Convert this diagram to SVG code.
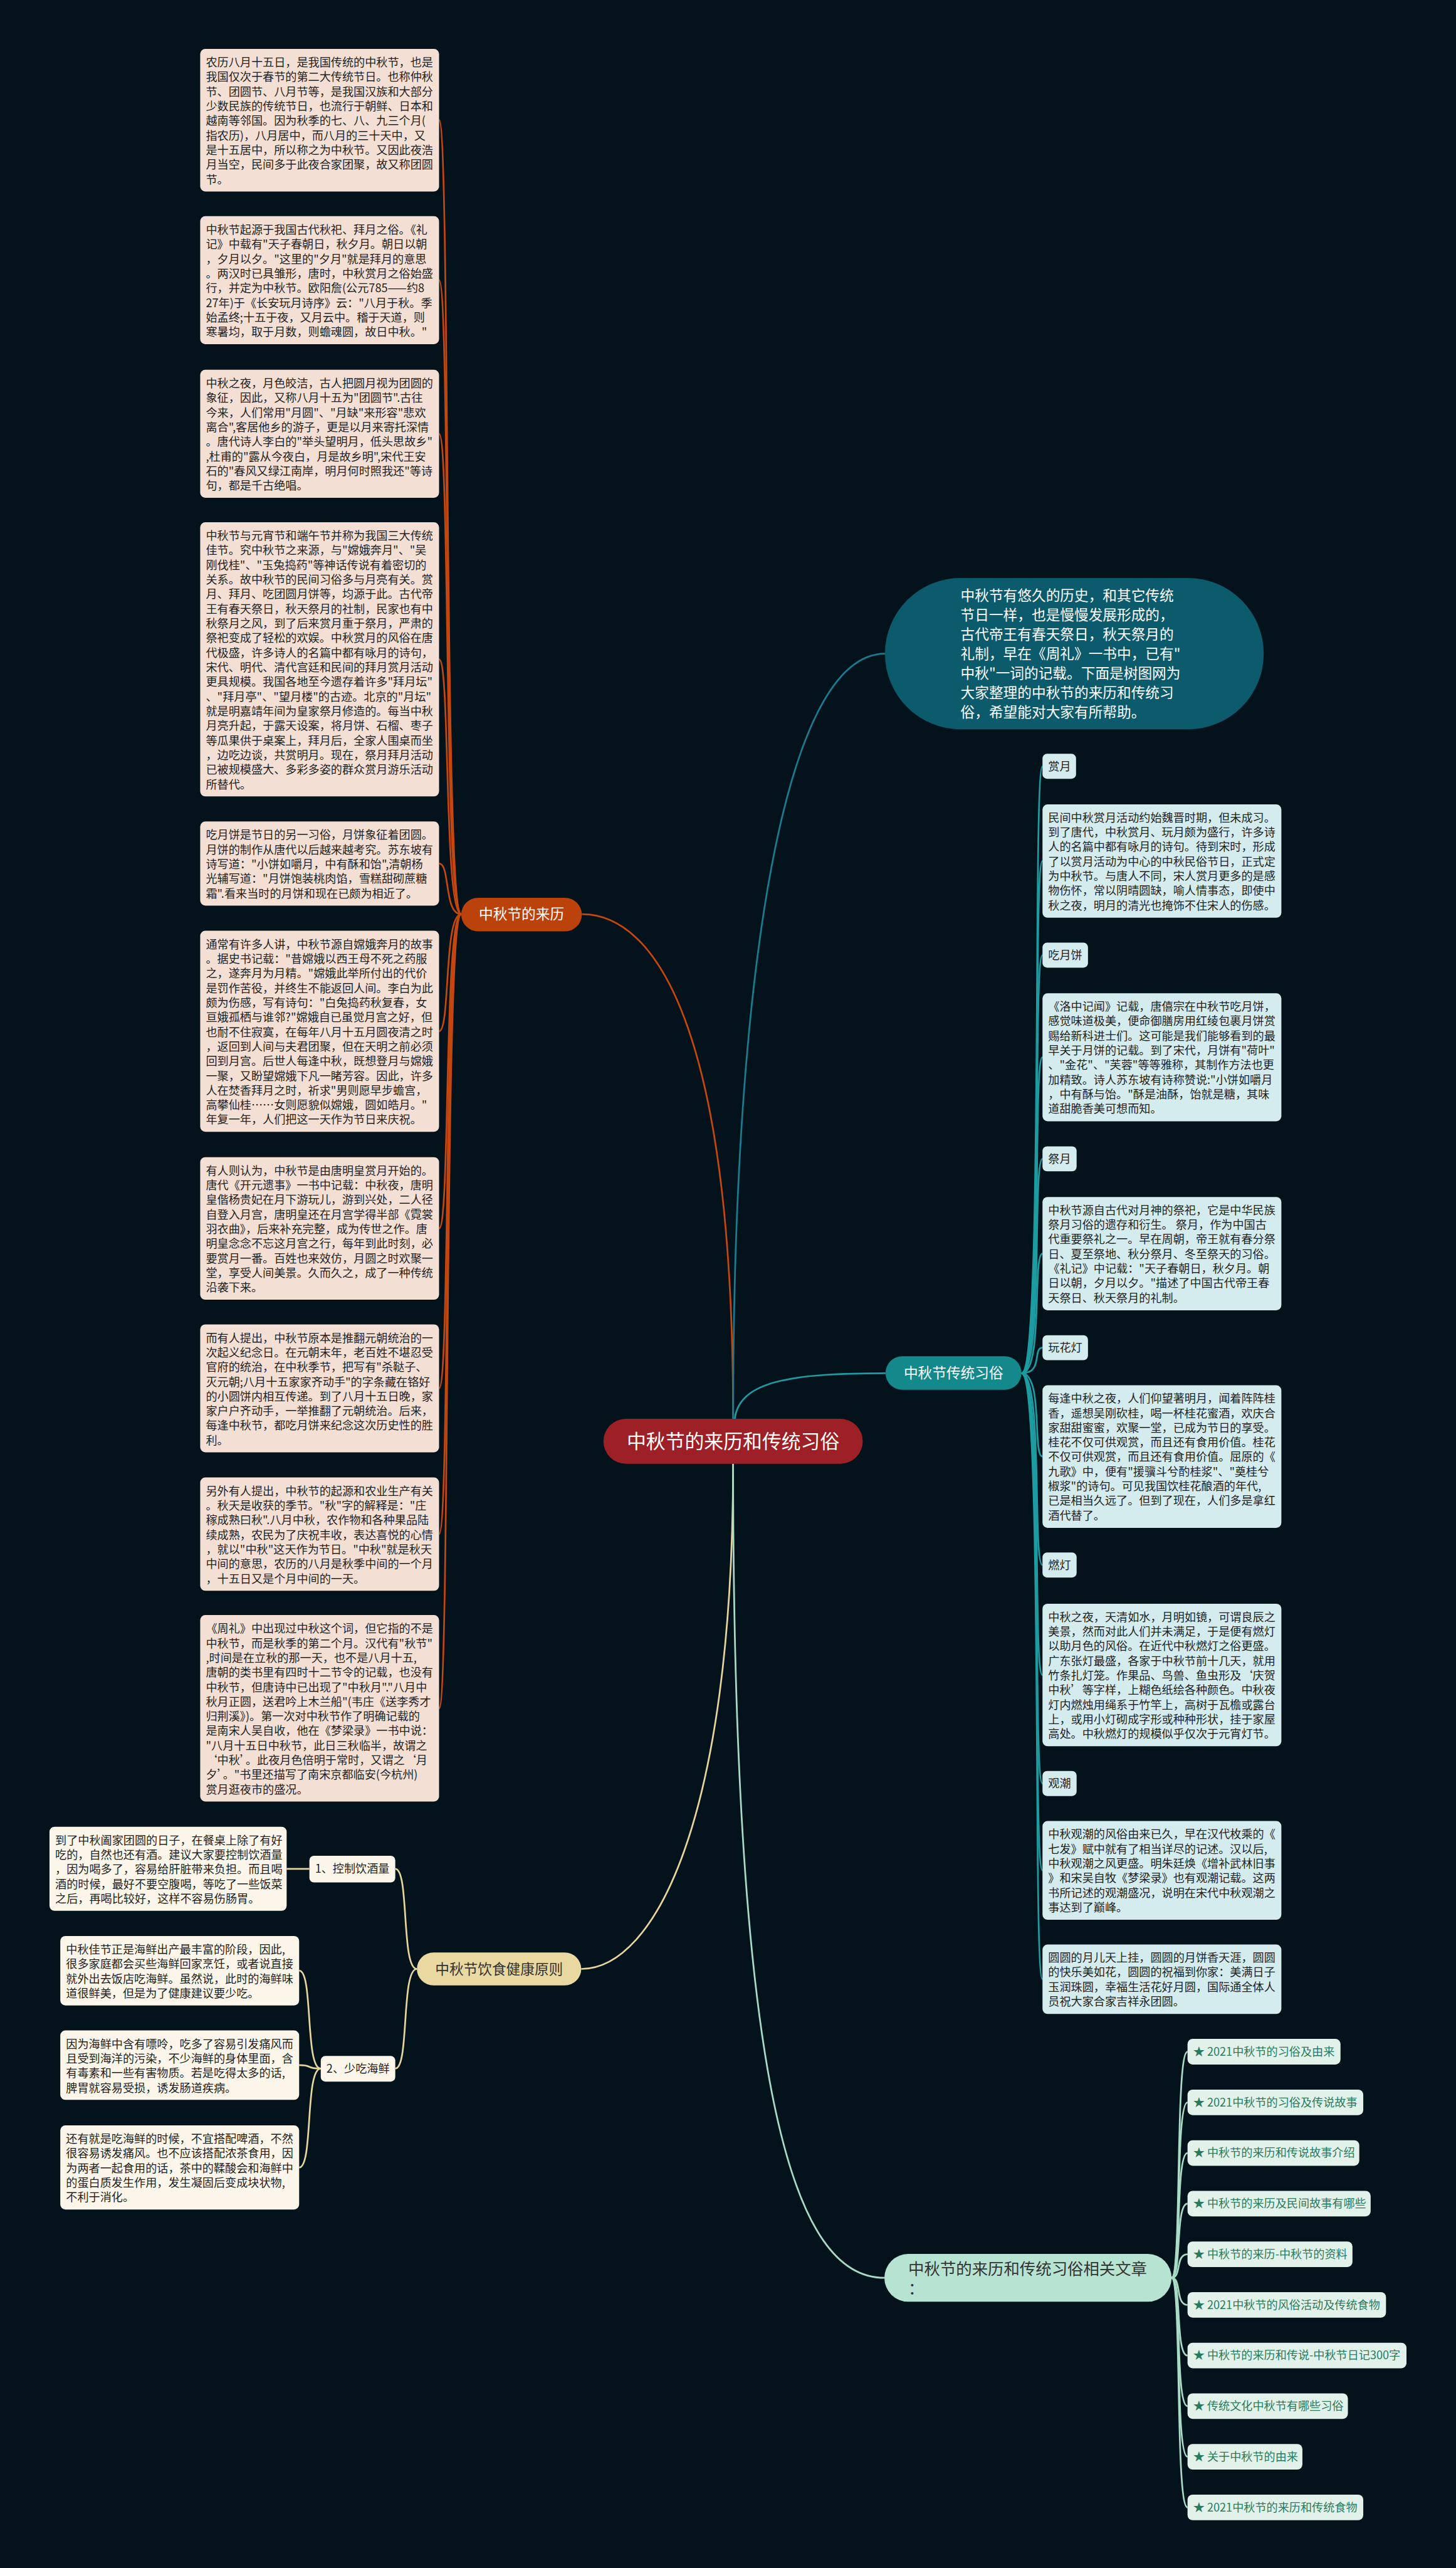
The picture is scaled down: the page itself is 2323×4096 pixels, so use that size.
<svg xmlns="http://www.w3.org/2000/svg" width="2323" height="4096" viewBox="0 0 2323 4096">
<style>
.t{font-family:"Noto Sans CJK SC","Noto Sans",sans-serif;font-size:20px;fill:#1f1f1f}
.tw{font-family:"Noto Sans CJK SC","Noto Sans",sans-serif;fill:#ffffff}
.ti{font-family:"Noto Sans CJK SC","Noto Sans",sans-serif;font-size:20px;fill:#2b7a5c}
.bl{fill:#f3dfd4}
.br{fill:#d4ecee}
.bc{fill:#fbf6e9}
.bi{fill:#e2f2ea}
.c{fill:none;stroke-width:3}
.co{stroke:#c4470f}
.ct{stroke:#1d9ca1}
.cg{stroke:#e6d59c}
.cm{stroke:#a9dcc7}
</style>
<rect x="0" y="0" width="2323" height="4096" fill="#04121b"/>
<g transform="scale(0.9074)">
<g id="connectors">
<path class="c co" d="M1289,2494 C1289,1800 1150,1607 1023,1607"/>
<path class="c" stroke="#1a7c8f" d="M1289,2494 C1289,1700 1380,1149 1556,1149"/>
<path class="c ct" d="M1292,2494 C1300,2425 1400,2414 1557,2414"/>
<path class="c cg" d="M1289,2573 C1289,3200 1150,3461 1022,3461"/>
<path class="c cm" d="M1289,2573 C1289,3700 1400,4004 1555,4004"/>
<path class="c co" d="M811,1607 C780,1607 792,211.3 772,211.3"/>
<path class="c co" d="M811,1607 C780,1607 792,492.4 772,492.4"/>
<path class="c co" d="M811,1607 C780,1607 792,762.4 772,762.4"/>
<path class="c co" d="M811,1607 C780,1607 792,1159 772,1159"/>
<path class="c co" d="M811,1607 C780,1607 792,1517.9 772,1517.9"/>
<path class="c co" d="M811,1607 C780,1607 792,1812.7 772,1812.7"/>
<path class="c co" d="M811,1607 C780,1607 792,2159.3 772,2159.3"/>
<path class="c co" d="M811,1607 C780,1607 792,2440.4 772,2440.4"/>
<path class="c co" d="M811,1607 C780,1607 792,2696.6 772,2696.6"/>
<path class="c co" d="M811,1607 C780,1607 792,3002.9 772,3002.9"/>
<path class="c ct" d="M1796,2414 C1835,2414 1815,1347 1833,1347"/>
<path class="c ct" d="M1796,2414 C1835,2414 1815,1513.6 1833,1513.6"/>
<path class="c ct" d="M1796,2414 C1835,2414 1815,1679 1833,1679"/>
<path class="c ct" d="M1796,2414 C1835,2414 1815,1858.5 1833,1858.5"/>
<path class="c ct" d="M1796,2414 C1835,2414 1815,2037 1833,2037"/>
<path class="c ct" d="M1796,2414 C1835,2414 1815,2203.6 1833,2203.6"/>
<path class="c ct" d="M1796,2414 C1835,2414 1815,2369 1833,2369"/>
<path class="c ct" d="M1796,2414 C1835,2414 1815,2560.3 1833,2560.3"/>
<path class="c ct" d="M1796,2414 C1835,2414 1815,2751 1833,2751"/>
<path class="c ct" d="M1796,2414 C1835,2414 1815,2944.3 1833,2944.3"/>
<path class="c ct" d="M1796,2414 C1835,2414 1815,3135 1833,3135"/>
<path class="c ct" d="M1796,2414 C1835,2414 1815,3287.8 1833,3287.8"/>
<path class="c ct" d="M1796,2414 C1835,2414 1815,3479 1833,3479"/>
<path class="c cg" d="M733,3461 C705,3461 720,3285 695,3285"/>
<path class="c cg" d="M733,3461 C705,3461 720,3636 695,3636"/>
<path class="c cg" d="M544,3285 L504,3285"/>
<path class="c cg" d="M564,3636 C536,3636 551,3464 526,3464"/>
<path class="c cg" d="M564,3636 C536,3636 551,3630 526,3630"/>
<path class="c cg" d="M564,3636 C536,3636 551,3810 526,3810"/>
<path class="c cm" d="M2060,4004 C2078,4004 2066,3606.5 2088,3606.5"/>
<path class="c cm" d="M2060,4004 C2078,4004 2066,3695.5 2088,3695.5"/>
<path class="c cm" d="M2060,4004 C2078,4004 2066,3784.5 2088,3784.5"/>
<path class="c cm" d="M2060,4004 C2078,4004 2066,3873.5 2088,3873.5"/>
<path class="c cm" d="M2060,4004 C2078,4004 2066,3962.5 2088,3962.5"/>
<path class="c cm" d="M2060,4004 C2078,4004 2066,4051.5 2088,4051.5"/>
<path class="c cm" d="M2060,4004 C2078,4004 2066,4140.5 2088,4140.5"/>
<path class="c cm" d="M2060,4004 C2078,4004 2066,4229.5 2088,4229.5"/>
<path class="c cm" d="M2060,4004 C2078,4004 2066,4318.5 2088,4318.5"/>
<path class="c cm" d="M2060,4004 C2078,4004 2066,4407.5 2088,4407.5"/>
</g>

<g id="root">
<rect x="1061" y="2494" width="456" height="79" rx="39.5" fill="#9c2026"/>
<text class="tw" x="1289" y="2546" font-size="34" text-anchor="middle">中秋节的来历和传统习俗</text>
</g>

<g id="intro">
<rect x="1556" y="1016" width="666" height="266" rx="133" fill="#0c5b6c"/>
<text class="tw" font-size="25" x="1689" y="1056"><tspan x="1689">中秋节有悠久的历史，和其它传统</tspan><tspan x="1689" dy="34.2">节日一样，也是慢慢发展形成的，</tspan><tspan x="1689" dy="34.2">古代帝王有春天祭日，秋天祭月的</tspan><tspan x="1689" dy="34.2">礼制，早在《周礼》一书中，已有"</tspan><tspan x="1689" dy="34.2">中秋"一词的记载。下面是树图网为</tspan><tspan x="1689" dy="34.2">大家整理的中秋节的来历和传统习</tspan><tspan x="1689" dy="34.2">俗，希望能对大家有所帮助。</tspan></text>
</g>

<g id="origin">
<rect x="811" y="1578" width="212" height="59" rx="29.5" fill="#bb420b"/>
<text class="tw" x="917" y="1616" font-size="25" text-anchor="middle">中秋节的来历</text>
</g>

<g id="o1">
<rect class="bl" x="352" y="86" width="420" height="250.6" rx="9"/>
<text class="t" x="362" y="117"><tspan x="362">农历八月十五日，是我国传统的中秋节，也是</tspan><tspan x="362" dy="25.7">我国仅次于春节的第二大传统节日。也称仲秋</tspan><tspan x="362" dy="25.7">节、团圆节、八月节等，是我国汉族和大部分</tspan><tspan x="362" dy="25.7">少数民族的传统节日，也流行于朝鲜、日本和</tspan><tspan x="362" dy="25.7">越南等邻国。因为秋季的七、八、九三个月(</tspan><tspan x="362" dy="25.7">指农历)，八月居中，而八月的三十天中，又</tspan><tspan x="362" dy="25.7">是十五居中，所以称之为中秋节。又因此夜浩</tspan><tspan x="362" dy="25.7">月当空，民间多于此夜合家团聚，故又称团圆</tspan><tspan x="362" dy="25.7">节。</tspan></text>
</g>

<g id="o2">
<rect class="bl" x="352" y="380" width="420" height="224.9" rx="9"/>
<text class="t" x="362" y="411"><tspan x="362">中秋节起源于我国古代秋祀、拜月之俗。《礼</tspan><tspan x="362" dy="25.7">记》中载有"天子春朝日，秋夕月。朝日以朝</tspan><tspan x="362" dy="25.7">，夕月以夕。"这里的"夕月"就是拜月的意思</tspan><tspan x="362" dy="25.7">。两汉时已具雏形，唐时，中秋赏月之俗始盛</tspan><tspan x="362" dy="25.7">行，并定为中秋节。欧阳詹(公元785——约8</tspan><tspan x="362" dy="25.7">27年)于《长安玩月诗序》云："八月于秋。季</tspan><tspan x="362" dy="25.7">始孟终;十五于夜，又月云中。稽于天道，则</tspan><tspan x="362" dy="25.7">寒暑均，取于月数，则蟾魂圆，故日中秋。"</tspan></text>
</g>

<g id="o3">
<rect class="bl" x="352" y="650" width="420" height="224.9" rx="9"/>
<text class="t" x="362" y="681"><tspan x="362">中秋之夜，月色皎洁，古人把圆月视为团圆的</tspan><tspan x="362" dy="25.7">象征，因此，又称八月十五为"团圆节".古往</tspan><tspan x="362" dy="25.7">今来，人们常用"月圆"、"月缺"来形容"悲欢</tspan><tspan x="362" dy="25.7">离合",客居他乡的游子，更是以月来寄托深情</tspan><tspan x="362" dy="25.7">。唐代诗人李白的"举头望明月，低头思故乡"</tspan><tspan x="362" dy="25.7">,杜甫的"露从今夜白，月是故乡明",宋代王安</tspan><tspan x="362" dy="25.7">石的"春风又绿江南岸，明月何时照我还"等诗</tspan><tspan x="362" dy="25.7">句，都是千古绝唱。</tspan></text>
</g>

<g id="o4">
<rect class="bl" x="352" y="918" width="420" height="481.9" rx="9"/>
<text class="t" x="362" y="949"><tspan x="362">中秋节与元宵节和端午节并称为我国三大传统</tspan><tspan x="362" dy="25.7">佳节。究中秋节之来源，与"嫦娥奔月"、"吴</tspan><tspan x="362" dy="25.7">刚伐桂"、"玉兔捣药"等神话传说有着密切的</tspan><tspan x="362" dy="25.7">关系。故中秋节的民间习俗多与月亮有关。赏</tspan><tspan x="362" dy="25.7">月、拜月、吃团圆月饼等，均源于此。古代帝</tspan><tspan x="362" dy="25.7">王有春天祭日，秋天祭月的社制，民家也有中</tspan><tspan x="362" dy="25.7">秋祭月之风，到了后来赏月重于祭月，严肃的</tspan><tspan x="362" dy="25.7">祭祀变成了轻松的欢娱。中秋赏月的风俗在唐</tspan><tspan x="362" dy="25.7">代极盛，许多诗人的名篇中都有咏月的诗句，</tspan><tspan x="362" dy="25.7">宋代、明代、清代宫廷和民间的拜月赏月活动</tspan><tspan x="362" dy="25.7">更具规模。我国各地至今遗存着许多"拜月坛"</tspan><tspan x="362" dy="25.7">、"拜月亭"、"望月楼"的古迹。北京的"月坛"</tspan><tspan x="362" dy="25.7">就是明嘉靖年间为皇家祭月修造的。每当中秋</tspan><tspan x="362" dy="25.7">月亮升起，于露天设案，将月饼、石榴、枣子</tspan><tspan x="362" dy="25.7">等瓜果供于桌案上，拜月后，全家人围桌而坐</tspan><tspan x="362" dy="25.7">，边吃边谈，共赏明月。现在，祭月拜月活动</tspan><tspan x="362" dy="25.7">已被规模盛大、多彩多姿的群众赏月游乐活动</tspan><tspan x="362" dy="25.7">所替代。</tspan></text>
</g>

<g id="o5">
<rect class="bl" x="352" y="1444" width="420" height="147.8" rx="9"/>
<text class="t" x="362" y="1475"><tspan x="362">吃月饼是节日的另一习俗，月饼象征着团圆。</tspan><tspan x="362" dy="25.7">月饼的制作从唐代以后越来越考究。苏东坡有</tspan><tspan x="362" dy="25.7">诗写道："小饼如嚼月，中有酥和饴",清朝杨</tspan><tspan x="362" dy="25.7">光辅写道："月饼饱装桃肉馅，雪糕甜砌蔗糖</tspan><tspan x="362" dy="25.7">霜".看来当时的月饼和现在已颇为相近了。</tspan></text>
</g>

<g id="o6">
<rect class="bl" x="352" y="1636" width="420" height="353.4" rx="9"/>
<text class="t" x="362" y="1667"><tspan x="362">通常有许多人讲，中秋节源自嫦娥奔月的故事</tspan><tspan x="362" dy="25.7">。据史书记载："昔嫦娥以西王母不死之药服</tspan><tspan x="362" dy="25.7">之，遂奔月为月精。"嫦娥此举所付出的代价</tspan><tspan x="362" dy="25.7">是罚作苦役，并终生不能返回人间。李白为此</tspan><tspan x="362" dy="25.7">颇为伤感，写有诗句："白兔捣药秋复春，女</tspan><tspan x="362" dy="25.7">亘娥孤栖与谁邻?"嫦娥自已虽觉月宫之好，但</tspan><tspan x="362" dy="25.7">也耐不住寂寞，在每年八月十五月圆夜清之时</tspan><tspan x="362" dy="25.7">，返回到人间与夫君团聚，但在天明之前必须</tspan><tspan x="362" dy="25.7">回到月宫。后世人每逢中秋，既想登月与嫦娥</tspan><tspan x="362" dy="25.7">一聚，又盼望嫦娥下凡一睹芳容。因此，许多</tspan><tspan x="362" dy="25.7">人在焚香拜月之时，祈求"男则愿早步蟾宫，</tspan><tspan x="362" dy="25.7">高攀仙桂……女则愿貌似嫦娥，圆如皓月。"</tspan><tspan x="362" dy="25.7">年复一年，人们把这一天作为节日来庆祝。</tspan></text>
</g>

<g id="o7">
<rect class="bl" x="352" y="2034" width="420" height="250.6" rx="9"/>
<text class="t" x="362" y="2065"><tspan x="362">有人则认为，中秋节是由唐明皇赏月开始的。</tspan><tspan x="362" dy="25.7">唐代《开元遗事》一书中记载：中秋夜，唐明</tspan><tspan x="362" dy="25.7">皇偕杨贵妃在月下游玩儿，游到兴处，二人径</tspan><tspan x="362" dy="25.7">自登入月宫，唐明皇还在月宫学得半部《霓裳</tspan><tspan x="362" dy="25.7">羽衣曲》，后来补充完整，成为传世之作。唐</tspan><tspan x="362" dy="25.7">明皇念念不忘这月宫之行，每年到此时刻，必</tspan><tspan x="362" dy="25.7">要赏月一番。百姓也来效仿，月圆之时欢聚一</tspan><tspan x="362" dy="25.7">堂，享受人间美景。久而久之，成了一种传统</tspan><tspan x="362" dy="25.7">沿袭下来。</tspan></text>
</g>

<g id="o8">
<rect class="bl" x="352" y="2328" width="420" height="224.9" rx="9"/>
<text class="t" x="362" y="2359"><tspan x="362">而有人提出，中秋节原本是推翻元朝统治的一</tspan><tspan x="362" dy="25.7">次起义纪念日。在元朝末年，老百姓不堪忍受</tspan><tspan x="362" dy="25.7">官府的统治，在中秋季节，把写有"杀鞑子、</tspan><tspan x="362" dy="25.7">灭元朝;八月十五家家齐动手"的字条藏在铬好</tspan><tspan x="362" dy="25.7">的小圆饼内相互传递。到了八月十五日晚，家</tspan><tspan x="362" dy="25.7">家户户齐动手，一举推翻了元朝统治。后来，</tspan><tspan x="362" dy="25.7">每逢中秋节，都吃月饼来纪念这次历史性的胜</tspan><tspan x="362" dy="25.7">利。</tspan></text>
</g>

<g id="o9">
<rect class="bl" x="352" y="2597" width="420" height="199.2" rx="9"/>
<text class="t" x="362" y="2628"><tspan x="362">另外有人提出，中秋节的起源和农业生产有关</tspan><tspan x="362" dy="25.7">。秋天是收获的季节。"秋"字的解释是："庄</tspan><tspan x="362" dy="25.7">稼成熟曰秋".八月中秋，农作物和各种果品陆</tspan><tspan x="362" dy="25.7">续成熟，农民为了庆祝丰收，表达喜悦的心情</tspan><tspan x="362" dy="25.7">，就以"中秋"这天作为节日。"中秋"就是秋天</tspan><tspan x="362" dy="25.7">中间的意思，农历的八月是秋季中间的一个月</tspan><tspan x="362" dy="25.7">，十五日又是个月中间的一天。</tspan></text>
</g>

<g id="o10">
<rect class="bl" x="352" y="2839" width="420" height="327.7" rx="9"/>
<text class="t" x="362" y="2870"><tspan x="362">《周礼》中出现过中秋这个词，但它指的不是</tspan><tspan x="362" dy="25.7">中秋节，而是秋季的第二个月。汉代有"秋节"</tspan><tspan x="362" dy="25.7">,时间是在立秋的那一天，也不是八月十五,</tspan><tspan x="362" dy="25.7">唐朝的类书里有四时十二节令的记载，也没有</tspan><tspan x="362" dy="25.7">中秋节，但唐诗中已出现了"中秋月"."八月中</tspan><tspan x="362" dy="25.7">秋月正圆，送君吟上木兰船"(韦庄《送李秀才</tspan><tspan x="362" dy="25.7">归荆溪》)。第一次对中秋节作了明确记载的</tspan><tspan x="362" dy="25.7">是南宋人吴自收，他在《梦梁录》一书中说：</tspan><tspan x="362" dy="25.7">"八月十五日中秋节，此日三秋临半，故谓之</tspan><tspan x="362" dy="25.7">‘中秋’。此夜月色倍明于常时，又谓之‘月</tspan><tspan x="362" dy="25.7">夕’。"书里还描写了南宋京都临安(今杭州)</tspan><tspan x="362" dy="25.7">赏月逛夜市的盛况。</tspan></text>
</g>

<g id="customs">
<rect x="1557" y="2384" width="239" height="59" rx="29.5" fill="#13898c"/>
<text class="tw" x="1676.5" y="2422.5" font-size="25" text-anchor="middle">中秋节传统习俗</text>
</g>

<g id="c1">
<rect class="br" x="1833" y="1325" width="59" height="44" rx="8"/>
<text class="t" x="1843" y="1354">赏月</text>
</g>
<g id="c1d">
<rect class="br" x="1833" y="1414" width="420" height="199.2" rx="9"/>
<text class="t" x="1843" y="1444.5"><tspan x="1843">民间中秋赏月活动约始魏晋时期，但未成习。</tspan><tspan x="1843" dy="25.7">到了唐代，中秋赏月、玩月颇为盛行，许多诗</tspan><tspan x="1843" dy="25.7">人的名篇中都有咏月的诗句。待到宋时，形成</tspan><tspan x="1843" dy="25.7">了以赏月活动为中心的中秋民俗节日，正式定</tspan><tspan x="1843" dy="25.7">为中秋节。与唐人不同，宋人赏月更多的是感</tspan><tspan x="1843" dy="25.7">物伤怀，常以阴晴圆缺，喻人情事态，即使中</tspan><tspan x="1843" dy="25.7">秋之夜，明月的清光也掩饰不住宋人的伤感。</tspan></text>
</g>

<g id="c2">
<rect class="br" x="1833" y="1657" width="80" height="44" rx="8"/>
<text class="t" x="1843" y="1686">吃月饼</text>
</g>
<g id="c2d">
<rect class="br" x="1833" y="1746" width="420" height="224.9" rx="9"/>
<text class="t" x="1843" y="1776.5"><tspan x="1843">《洛中记闻》记载，唐僖宗在中秋节吃月饼，</tspan><tspan x="1843" dy="25.7">感觉味道极美，便命御膳房用红绫包裹月饼赏</tspan><tspan x="1843" dy="25.7">赐给新科进士们。这可能是我们能够看到的最</tspan><tspan x="1843" dy="25.7">早关于月饼的记载。到了宋代，月饼有"荷叶"</tspan><tspan x="1843" dy="25.7">、"金花"、"芙蓉"等等雅称，其制作方法也更</tspan><tspan x="1843" dy="25.7">加精致。诗人苏东坡有诗称赞说:"小饼如嚼月</tspan><tspan x="1843" dy="25.7">，中有酥与饴。"酥是油酥，饴就是糖，其味</tspan><tspan x="1843" dy="25.7">道甜脆香美可想而知。</tspan></text>
</g>

<g id="c3">
<rect class="br" x="1833" y="2015" width="60" height="44" rx="8"/>
<text class="t" x="1843" y="2044">祭月</text>
</g>
<g id="c3d">
<rect class="br" x="1833" y="2104" width="420" height="199.2" rx="9"/>
<text class="t" x="1843" y="2134.5"><tspan x="1843">中秋节源自古代对月神的祭祀，它是中华民族</tspan><tspan x="1843" dy="25.7">祭月习俗的遗存和衍生。 祭月，作为中国古</tspan><tspan x="1843" dy="25.7">代重要祭礼之一。早在周朝，帝王就有春分祭</tspan><tspan x="1843" dy="25.7">日、夏至祭地、秋分祭月、冬至祭天的习俗。</tspan><tspan x="1843" dy="25.7">《礼记》中记载："天子春朝日，秋夕月。朝</tspan><tspan x="1843" dy="25.7">日以朝，夕月以夕。"描述了中国古代帝王春</tspan><tspan x="1843" dy="25.7">天祭日、秋天祭月的礼制。</tspan></text>
</g>

<g id="c4">
<rect class="br" x="1833" y="2347" width="80" height="44" rx="8"/>
<text class="t" x="1843" y="2376">玩花灯</text>
</g>
<g id="c4d">
<rect class="br" x="1833" y="2435" width="420" height="250.6" rx="9"/>
<text class="t" x="1843" y="2465.5"><tspan x="1843">每逢中秋之夜，人们仰望著明月，闻着阵阵桂</tspan><tspan x="1843" dy="25.7">香，遥想吴刚砍桂，喝一杯桂花蜜酒，欢庆合</tspan><tspan x="1843" dy="25.7">家甜甜蜜蜜，欢聚一堂，已成为节日的享受。</tspan><tspan x="1843" dy="25.7">桂花不仅可供观赏，而且还有食用价值。桂花</tspan><tspan x="1843" dy="25.7">不仅可供观赏，而且还有食用价值。屈原的《</tspan><tspan x="1843" dy="25.7">九歌》中，便有"援骥斗兮酌桂浆"、"奠桂兮</tspan><tspan x="1843" dy="25.7">椒浆"的诗句。可见我国饮桂花酿酒的年代,</tspan><tspan x="1843" dy="25.7">已是相当久远了。但到了现在，人们多是拿红</tspan><tspan x="1843" dy="25.7">酒代替了。</tspan></text>
</g>

<g id="c5">
<rect class="br" x="1833" y="2729" width="60" height="44" rx="8"/>
<text class="t" x="1843" y="2758">燃灯</text>
</g>
<g id="c5d">
<rect class="br" x="1833" y="2819" width="420" height="250.6" rx="9"/>
<text class="t" x="1843" y="2849.5"><tspan x="1843">中秋之夜，天清如水，月明如镜，可谓良辰之</tspan><tspan x="1843" dy="25.7">美景，然而对此人们并未满足，于是便有燃灯</tspan><tspan x="1843" dy="25.7">以助月色的风俗。在近代中秋燃灯之俗更盛。</tspan><tspan x="1843" dy="25.7">广东张灯最盛，各家于中秋节前十几天，就用</tspan><tspan x="1843" dy="25.7">竹条扎灯笼。作果品、鸟兽、鱼虫形及‘庆贺</tspan><tspan x="1843" dy="25.7">中秋’等字样，上糊色纸绘各种颜色。中秋夜</tspan><tspan x="1843" dy="25.7">灯内燃烛用绳系于竹竿上，高树于瓦檐或露台</tspan><tspan x="1843" dy="25.7">上，或用小灯砌成字形或种种形状，挂于家屋</tspan><tspan x="1843" dy="25.7">高处。中秋燃灯的规模似乎仅次于元宵灯节。</tspan></text>
</g>

<g id="c6">
<rect class="br" x="1833" y="3113" width="60" height="44" rx="8"/>
<text class="t" x="1843" y="3142">观潮</text>
</g>
<g id="c6d">
<rect class="br" x="1833" y="3201" width="420" height="173.5" rx="9"/>
<text class="t" x="1843" y="3231.5"><tspan x="1843">中秋观潮的风俗由来已久，早在汉代枚乘的《</tspan><tspan x="1843" dy="25.7">七发》赋中就有了相当详尽的记述。汉以后,</tspan><tspan x="1843" dy="25.7">中秋观潮之风更盛。明朱廷焕《增补武林旧事</tspan><tspan x="1843" dy="25.7">》和宋吴自牧《梦梁录》也有观潮记载。这两</tspan><tspan x="1843" dy="25.7">书所记述的观潮盛况，说明在宋代中秋观潮之</tspan><tspan x="1843" dy="25.7">事达到了巅峰。</tspan></text>
</g>

<g id="c7">
<rect class="br" x="1833" y="3418" width="420" height="122.1" rx="9"/>
<text class="t" x="1843" y="3448.5"><tspan x="1843">圆圆的月儿天上挂，圆圆的月饼香天涯，圆圆</tspan><tspan x="1843" dy="25.7">的快乐美如花，圆圆的祝福到你家：美满日子</tspan><tspan x="1843" dy="25.7">玉润珠圆，幸福生活花好月圆，国际通全体人</tspan><tspan x="1843" dy="25.7">员祝大家合家吉祥永团圆。</tspan></text>
</g>

<g id="diet">
<rect x="733" y="3432" width="289" height="58" rx="29" fill="#e9d9a1"/>
<text x="877.5" y="3470" font-family="Noto Sans CJK SC, Noto Sans, sans-serif" font-size="25" fill="#333333" text-anchor="middle">中秋节饮食健康原则</text>
</g>

<g id="d1">
<rect class="bc" x="544" y="3262" width="151" height="47" rx="8"/>
<text class="t" x="554" y="3292">1、控制饮酒量</text>
</g>
<g id="d1a">
<rect class="bc" x="87" y="3211" width="417" height="147.8" rx="9"/>
<text class="t" x="97" y="3242"><tspan x="97">到了中秋阖家团圆的日子，在餐桌上除了有好</tspan><tspan x="97" dy="25.7">吃的，自然也还有酒。建议大家要控制饮酒量</tspan><tspan x="97" dy="25.7">，因为喝多了，容易给肝脏带来负担。而且喝</tspan><tspan x="97" dy="25.7">酒的时候，最好不要空腹喝，等吃了一些饭菜</tspan><tspan x="97" dy="25.7">之后，再喝比较好，这样不容易伤肠胃。</tspan></text>
</g>

<g id="d2">
<rect class="bc" x="564" y="3614" width="131" height="45" rx="8"/>
<text class="t" x="574" y="3643">2、少吃海鲜</text>
</g>
<g id="d2a">
<rect class="bc" x="106" y="3403" width="420" height="122.1" rx="9"/>
<text class="t" x="116" y="3434"><tspan x="116">中秋佳节正是海鲜出产最丰富的阶段，因此,</tspan><tspan x="116" dy="25.7">很多家庭都会买些海鲜回家烹饪，或者说直接</tspan><tspan x="116" dy="25.7">就外出去饭店吃海鲜。虽然说，此时的海鲜味</tspan><tspan x="116" dy="25.7">道很鲜美，但是为了健康建议要少吃。</tspan></text>
</g>
<g id="d2b">
<rect class="bc" x="106" y="3569" width="420" height="122.1" rx="9"/>
<text class="t" x="116" y="3600"><tspan x="116">因为海鲜中含有嘌呤，吃多了容易引发痛风而</tspan><tspan x="116" dy="25.7">且受到海洋的污染，不少海鲜的身体里面，含</tspan><tspan x="116" dy="25.7">有毒素和一些有害物质。若是吃得太多的话,</tspan><tspan x="116" dy="25.7">脾胃就容易受损，诱发肠道疾病。</tspan></text>
</g>
<g id="d2c">
<rect class="bc" x="106" y="3736" width="420" height="147.8" rx="9"/>
<text class="t" x="116" y="3767"><tspan x="116">还有就是吃海鲜的时候，不宜搭配啤酒，不然</tspan><tspan x="116" dy="25.7">很容易诱发痛风。也不应该搭配浓茶食用，因</tspan><tspan x="116" dy="25.7">为两者一起食用的话，茶中的鞣酸会和海鲜中</tspan><tspan x="116" dy="25.7">的蛋白质发生作用，发生凝固后变成块状物,</tspan><tspan x="116" dy="25.7">不利于消化。</tspan></text>
</g>

<g id="related">
<rect x="1555" y="3962" width="505" height="84" rx="42" fill="#b7e3d2"/>
<text font-family="Noto Sans CJK SC, Noto Sans, sans-serif" font-size="28" fill="#333333" x="1597" y="3998"><tspan x="1597">中秋节的来历和传统习俗相关文章</tspan><tspan x="1597" dy="34">：</tspan></text>
</g>

<g id="r1"><rect class="bi" x="2088" y="3584" width="269" height="45" rx="9"/><text class="ti" x="2098" y="3613.5">★ 2021中秋节的习俗及由来</text></g>
<g id="r2"><rect class="bi" x="2088" y="3673" width="309" height="45" rx="9"/><text class="ti" x="2098" y="3702.5">★ 2021中秋节的习俗及传说故事</text></g>
<g id="r3"><rect class="bi" x="2088" y="3762" width="302" height="45" rx="9"/><text class="ti" x="2098" y="3791.5">★ 中秋节的来历和传说故事介绍</text></g>
<g id="r4"><rect class="bi" x="2088" y="3851" width="322" height="45" rx="9"/><text class="ti" x="2098" y="3880.5">★ 中秋节的来历及民间故事有哪些</text></g>
<g id="r5"><rect class="bi" x="2088" y="3940" width="290" height="45" rx="9"/><text class="ti" x="2098" y="3969.5">★ 中秋节的来历-中秋节的资料</text></g>
<g id="r6"><rect class="bi" x="2088" y="4029" width="349" height="45" rx="9"/><text class="ti" x="2098" y="4058.5">★ 2021中秋节的风俗活动及传统食物</text></g>
<g id="r7"><rect class="bi" x="2088" y="4118" width="385" height="45" rx="9"/><text class="ti" x="2098" y="4147.5">★ 中秋节的来历和传说-中秋节日记300字</text></g>
<g id="r8"><rect class="bi" x="2088" y="4207" width="282" height="45" rx="9"/><text class="ti" x="2098" y="4236.5">★ 传统文化中秋节有哪些习俗</text></g>
<g id="r9"><rect class="bi" x="2088" y="4296" width="202" height="45" rx="9"/><text class="ti" x="2098" y="4325.5">★ 关于中秋节的由来</text></g>
<g id="r10"><rect class="bi" x="2088" y="4385" width="309" height="45" rx="9"/><text class="ti" x="2098" y="4414.5">★ 2021中秋节的来历和传统食物</text></g>
</g>
</svg>
